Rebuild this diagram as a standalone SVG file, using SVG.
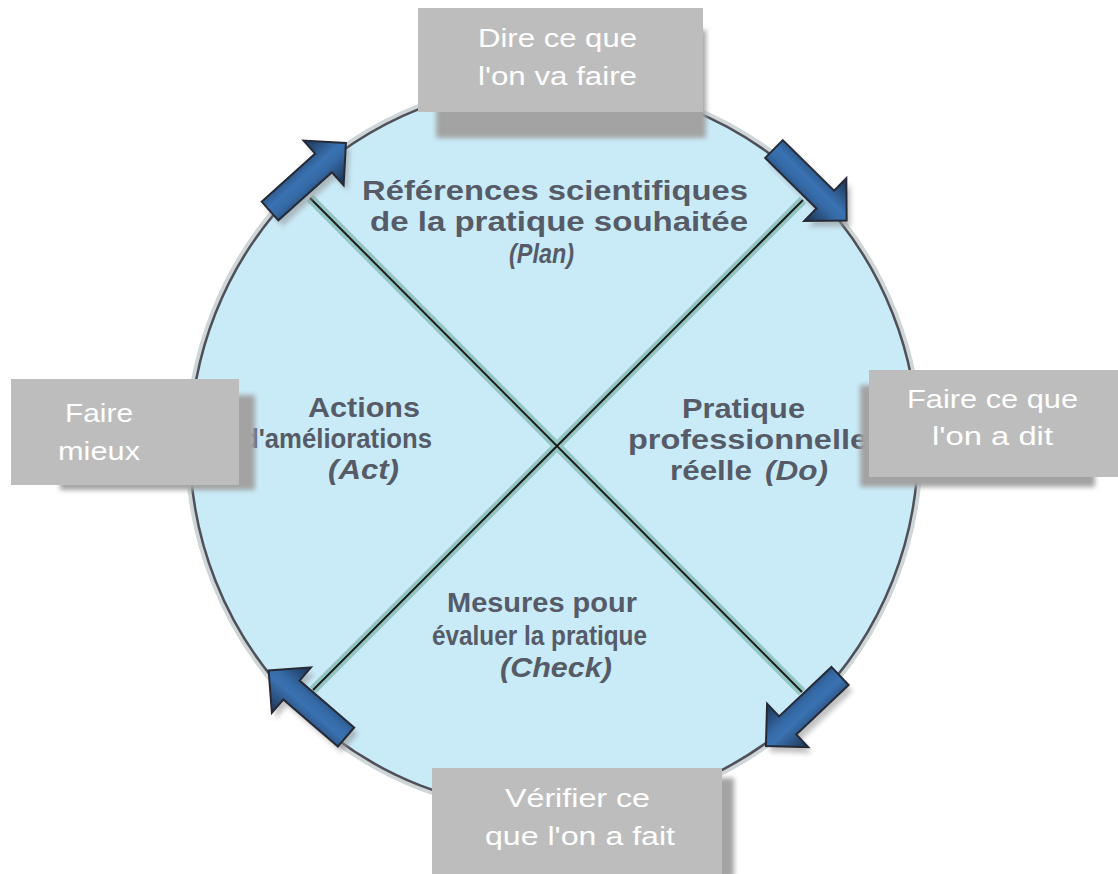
<svg xmlns="http://www.w3.org/2000/svg" width="1118" height="874" viewBox="0 0 1118 874">
  <defs>
    <linearGradient id="arrowFill" x1="0" y1="0" x2="0" y2="1">
      <stop offset="0" stop-color="#1d3350"/>
      <stop offset="0.45" stop-color="#3a72b2"/>
      <stop offset="0.6" stop-color="#356aa6"/>
      <stop offset="1" stop-color="#1b2f4a"/>
    </linearGradient>
    <filter id="soft" x="-20%" y="-20%" width="140%" height="140%">
      <feGaussianBlur stdDeviation="2.5"/>
    </filter>
    <path id="arrowShape" d="M0,-12.5 L72,-12.5 L72,-30 L102,0 L72,30 L72,12.5 L0,12.5 Z"/>
    <style>
      .inner { font-family: "Liberation Sans", Arial, sans-serif; font-weight: bold; font-size: 28px; fill: #565b67; }
      .inner .it { font-style: italic; }
      .boxtext { font-family: "Liberation Sans", Arial, sans-serif; font-size: 26px; fill: #ffffff; }
      .box { fill: #bdbdbd; }
      .boxshadow { fill: #a3a3a3; filter: url(#soft); }
      .halo { stroke: #93c6c3; stroke-width: 9; stroke-linecap: butt; fill: none; }
      .axis { stroke: #1c1c1c; stroke-width: 2; fill: none; }
      .arrow { fill: url(#arrowFill); stroke: #262a36; stroke-width: 2; stroke-linejoin: miter; }
      .arrowshadow { fill: #8e8e8e; opacity: 0.55; filter: url(#soft); }
    </style>
  </defs>

  <rect width="1118" height="874" fill="#ffffff"/>

  <!-- cycle disc -->
  <g id="cycle">
    <circle cx="554" cy="447" r="366" fill="none" stroke="#cfd6d8" stroke-width="6"/>
    <circle cx="554" cy="447" r="364" fill="#c9ebf8" stroke="#4f5058" stroke-width="2.5"/>
  </g>

  <!-- diagonals splitting the four phases -->
  <g id="connectors">
    <line class="halo" x1="310" y1="198" x2="802" y2="692"/>
    <line class="halo" x1="803" y1="200" x2="313" y2="690"/>
    <line class="axis" x1="310" y1="198" x2="802" y2="692"/>
    <line class="axis" x1="803" y1="200" x2="313" y2="690"/>
  </g>

  <!-- phase labels -->
  <g id="plan" class="inner">
    <text x="362" y="200" textLength="386" lengthAdjust="spacingAndGlyphs">Références scientifiques</text>
    <text x="370" y="231" textLength="378" lengthAdjust="spacingAndGlyphs">de la pratique souhaitée</text>
    <text class="it" x="509" y="263" textLength="65" lengthAdjust="spacingAndGlyphs">(Plan)</text>
  </g>
  <g id="act" class="inner">
    <text x="308" y="417" textLength="112" lengthAdjust="spacingAndGlyphs">Actions</text>
    <text x="243" y="448" textLength="189" lengthAdjust="spacingAndGlyphs">d'améliorations</text>
    <text class="it" x="328" y="479" textLength="71" lengthAdjust="spacingAndGlyphs">(Act)</text>
  </g>
  <g id="do" class="inner">
    <text x="682" y="418" textLength="123" lengthAdjust="spacingAndGlyphs">Pratique</text>
    <text x="628" y="449" textLength="240" lengthAdjust="spacingAndGlyphs">professionnelle</text>
    <text x="670" y="480" textLength="82" lengthAdjust="spacingAndGlyphs">réelle</text>
    <text class="it" x="765" y="480" textLength="63" lengthAdjust="spacingAndGlyphs">(Do)</text>
  </g>
  <g id="check" class="inner">
    <text x="447" y="612" textLength="190" lengthAdjust="spacingAndGlyphs">Mesures pour</text>
    <text x="432" y="645" textLength="215" lengthAdjust="spacingAndGlyphs">évaluer la pratique</text>
    <text class="it" x="500" y="677" textLength="112" lengthAdjust="spacingAndGlyphs">(Check)</text>
  </g>

  <!-- direction arrows on the rim -->
  <g id="arrow-plan">
    <use href="#arrowShape" class="arrowshadow" transform="translate(274,217) rotate(-41.9)"/>
    <use href="#arrowShape" class="arrow" transform="translate(270,211) rotate(-41.9)"/>
  </g>
  <g id="arrow-do">
    <use href="#arrowShape" class="arrowshadow" transform="translate(778,155) rotate(44.6)"/>
    <use href="#arrowShape" class="arrow" transform="translate(774,149) rotate(44.6)"/>
  </g>
  <g id="arrow-check">
    <use href="#arrowShape" class="arrowshadow" transform="translate(844,682) rotate(136.6)"/>
    <use href="#arrowShape" class="arrow" transform="translate(840,676) rotate(136.6)"/>
  </g>
  <g id="arrow-act">
    <use href="#arrowShape" class="arrowshadow" transform="translate(350,743) rotate(-139.3)"/>
    <use href="#arrowShape" class="arrow" transform="translate(346,737) rotate(-139.3)"/>
  </g>

  <!-- outer action boxes -->
  <g id="box-dire">
    <rect class="boxshadow" x="436" y="30" width="270" height="108"/>
    <rect class="box" x="418" y="8" width="285" height="104"/>
    <text class="boxtext" x="478" y="47" textLength="159" lengthAdjust="spacingAndGlyphs">Dire ce que</text>
    <text class="boxtext" x="478" y="85" textLength="159" lengthAdjust="spacingAndGlyphs">l'on va faire</text>
  </g>
  <g id="box-mieux">
    <rect class="boxshadow" x="60" y="395" width="195" height="95"/>
    <rect class="box" x="11" y="379" width="228" height="106"/>
    <text class="boxtext" x="65" y="422" textLength="68" lengthAdjust="spacingAndGlyphs">Faire</text>
    <text class="boxtext" x="58" y="460" textLength="82" lengthAdjust="spacingAndGlyphs">mieux</text>
  </g>
  <g id="box-dit">
    <rect class="boxshadow" x="860" y="385" width="235" height="102"/>
    <rect class="box" x="869" y="370" width="249" height="107"/>
    <text class="boxtext" x="907" y="408" textLength="171" lengthAdjust="spacingAndGlyphs">Faire ce que</text>
    <text class="boxtext" x="932" y="445" textLength="121" lengthAdjust="spacingAndGlyphs">l'on a dit</text>
  </g>
  <g id="box-fait">
    <rect class="boxshadow" x="440" y="778" width="294" height="100"/>
    <rect class="box" x="432" y="768" width="290" height="106"/>
    <text class="boxtext" x="505" y="807" textLength="145" lengthAdjust="spacingAndGlyphs">Vérifier ce</text>
    <text class="boxtext" x="485" y="845" textLength="190" lengthAdjust="spacingAndGlyphs">que l'on a fait</text>
  </g>
</svg>
